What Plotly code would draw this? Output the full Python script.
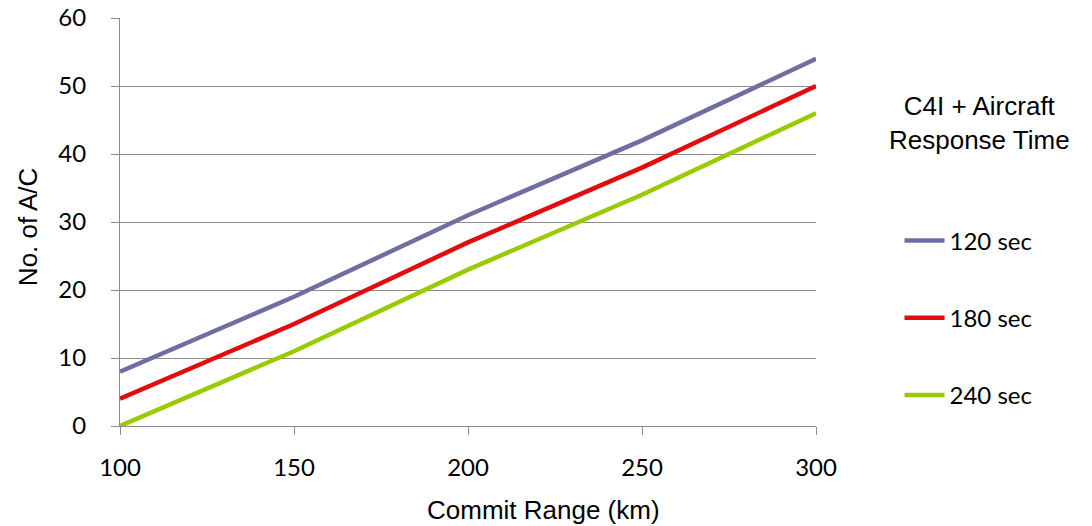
import plotly.graph_objects as go

commit_range = [100, 150, 200, 250, 300]
series_names = ["120 sec", "180 sec", "240 sec"]
ac_120 = [8, 19, 31, 42, 54]
ac_180 = [4, 15, 27, 38, 50]
ac_240 = [0, 11, 23, 34, 46]
colors = ["#6E6EA3", "#E30B0B", "#99CC00"]

fig = go.Figure()
for i, (name, vals) in enumerate(zip(series_names, [ac_120, ac_180, ac_240])):
    fig.add_trace(go.Scatter(
        x=commit_range, y=vals, name=name, mode="lines",
        line=dict(color=colors[i], width=4.5),
        legendgroup=name,
    ))

tick_font = dict(family="Lato, 'Open Sans', sans-serif", size=24, color="#000")
title_font = dict(family="'Liberation Sans', Arial, sans-serif", size=26, color="#000")
fig.update_layout(
    width=1092, height=526,
    margin=dict(l=120, r=276, t=18, b=100, autoexpand=False),
    plot_bgcolor="white", paper_bgcolor="white",
    showlegend=True,
    legend=dict(
        x=1.12, y=0.265, xanchor="left", yanchor="middle",
        traceorder="grouped", tracegroupgap=43,
        font=tick_font, itemwidth=40,
    ),
    annotations=[
        dict(text="C4I + Aircraft<br>Response Time", xref="paper", yref="paper",
             x=1.2356, y=0.743, xanchor="center", yanchor="middle", showarrow=False,
             font=title_font),
        dict(text="Commit Range (km)", xref="paper", yref="paper",
             x=0.609, y=-0.206, xanchor="center", yanchor="middle", showarrow=False,
             font=title_font),
        dict(text="No. of A/C", xref="paper", yref="paper", textangle=-90,
             x=-0.132, y=0.4877, xanchor="center", yanchor="middle", showarrow=False,
             font=title_font),
    ],
)
fig.update_xaxes(
    range=[100, 300], tickvals=commit_range, showgrid=False,
    showline=True, linecolor="#8C8C8C", linewidth=1,
    ticks="outside", ticklen=8, tickcolor="#8C8C8C",
    tickfont=tick_font, ticklabelstandoff=12,
    zeroline=False, automargin=False,
)
fig.update_yaxes(
    range=[0, 60], dtick=10, showgrid=True, gridcolor="#8C8C8C", gridwidth=1,
    showline=True, linecolor="#8C8C8C", linewidth=1,
    ticks="outside", ticklen=8, tickcolor="#8C8C8C",
    tickfont=tick_font, ticklabelstandoff=20,
    zeroline=False, automargin=False,
)
fig.write_html("out.html")
